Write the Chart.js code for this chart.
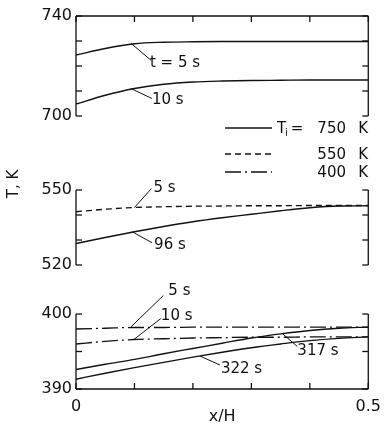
<!DOCTYPE html>
<html>
<head>
<meta charset="utf-8">
<script src="https://cdn.jsdelivr.net/npm/chart.js@4.4.1/dist/chart.umd.min.js"></script>
<style>
html,body{margin:0;padding:0;background:#fff}
#wrap{position:relative;width:389px;height:432px}
#wrap canvas{position:absolute;left:0;top:0}
#frames{pointer-events:none}
</style>
</head>
<body>
<div id="wrap">
<canvas id="myChart" width="389" height="432"></canvas>
<canvas id="frames" width="389" height="432"></canvas>
</div>
<script>
const xs = [0, 0.05, 0.1, 0.15, 0.2, 0.25, 0.3, 0.35, 0.4, 0.45, 0.5];

// Ti = 750 K
const t750_5s  = [724.4, 727.0, 728.9, 729.5, 729.7, 729.8, 729.8, 729.8, 729.8, 729.8, 729.8];
const t750_10s = [704.8, 708.3, 711.0, 712.7, 713.6, 714.0, 714.2, 714.3, 714.4, 714.4, 714.4];
// Ti = 550 K
const t550_5s  = [541.3, 542.3, 543.0, 543.3, 543.5, 543.6, 543.7, 543.7, 543.8, 543.8, 543.8];
const t550_96s = [528.6, 531.0, 533.3, 535.4, 537.3, 538.9, 540.3, 541.7, 542.9, 543.6, 543.7];
// Ti = 400 K
const t400_5s   = [398.0, 398.1, 398.2, 398.2, 398.25, 398.25, 398.25, 398.25, 398.25, 398.25, 398.25];
const t400_10s  = [396.0, 396.35, 396.6, 396.7, 396.8, 396.85, 396.9, 396.9, 396.95, 396.95, 396.95];
const t400_317s = [392.6, 393.3, 393.95, 394.7, 395.4, 396.1, 396.8, 397.35, 397.8, 398.1, 398.25];
const t400_322s = [391.3, 392.1, 392.85, 393.55, 394.25, 394.9, 395.5, 396.0, 396.45, 396.75, 396.95];

// axis ranges and labelled ticks
const xTickLabels = [0, 0.5];
const topRange = [700, 740], midRange = [520, 550], botRange = [390, 400];
const topLabels = [700, 740], midLabels = [520, 550], botLabels = [390, 400];

// legend: initial temperatures
const legendTemps = ['750', '550', '400'];

const ink = '#111';
const DASH = [6, 4];
const DASHDOT = [16, 4, 2, 4];
const TL = 6; // inward tick length

Chart.defaults.font.family = '"DejaVu Sans"';
Chart.defaults.font.size = 16;
Chart.defaults.color = ink;

function pts(arr) {
    return xs.map((x, i) => ({x: x, y: arr[i]}));
}
function line(arr, axis, dash) {
    return {
        data: pts(arr), xAxisID: 'x', yAxisID: axis,
        borderColor: ink, borderWidth: 1.3, borderDash: dash || [],
        pointRadius: 0, tension: 0.4, cubicInterpolationMode: 'monotone', fill: false
    };
}

const noGrid = {display: false, drawTicks: false};
const noBorder = {display: false};

function leftAxis(range, labels, step, stackWeight, weight) {
    return {
        type: 'linear', position: 'left', stack: 'L', stackWeight: stackWeight, weight: weight,
        min: range[0], max: range[1],
        grid: noGrid, border: noBorder,
        ticks: {stepSize: step, autoSkip: false, padding: 4,
            callback: v => labels.includes(v) ? String(v) : ''},
        afterFit: s => { s.width = 76; }
    };
}
// empty axis that only keeps the space between two panels
function gapAxis(stackWeight, weight) {
    return {
        type: 'linear', position: 'left', stack: 'L', stackWeight: stackWeight, weight: weight,
        min: 0, max: 1,
        grid: noGrid, border: noBorder, ticks: {display: false},
        afterFit: s => { s.width = 76; }
    };
}

// curve labels with leader lines: anchor on the curve, leader offset, text offset
const callouts = [
    {axis: 'yT', x: 0.094, y: 729.1, dx: 20, dy: 17, tx: -1, ty: 3, text: 't = 5 s'},
    {axis: 'yT', x: 0.094, y: 711.0, dx: 21, dy: 10, tx: 0, ty: 2, text: '10 s'},
    {axis: 'yM', x: 0.1, y: 543.0, dx: 17, dy: -19, tx: 2, ty: 0, text: '5 s'},
    {axis: 'yM', x: 0.096, y: 533.3, dx: 20, dy: 11, tx: 2, ty: 2, text: '96 s'},
    {axis: 'yB', x: 0.093, y: 398.2, dx: 33, dy: -32, tx: 5, ty: -4, text: '5 s'},
    {axis: 'yB', x: 0.099, y: 396.6, dx: 27, dy: -21, tx: 0, ty: -2, text: '10 s'},
    {axis: 'yB', x: 0.353, y: 397.4, dx: 15, dy: 13, tx: 0, ty: 5, text: '317 s'},
    {axis: 'yB', x: 0.212, y: 394.4, dx: 20, dy: 9, tx: 1, ty: 4, text: '322 s'}
];

// panel frames with inward ticks, drawn on an overlay canvas from the chart's scales
function segment(g, x1, y1, x2, y2) {
    g.beginPath();
    g.moveTo(x1, y1);
    g.lineTo(x2, y2);
    g.stroke();
}
function drawFrames(chart) {
    const g = document.getElementById('frames').getContext('2d');
    const a = chart.chartArea, sc = chart.scales, sx = sc.x;
    g.clearRect(0, 0, 389, 432);
    g.strokeStyle = ink;
    g.lineWidth = 1.3;
    g.setLineDash([]);
    ['yT', 'yM', 'yB'].forEach(id => {
        const s = sc[id];
        segment(g, a.left, s.top, a.left, s.bottom);
        segment(g, a.right, s.top, a.right, s.bottom);
        s.ticks.forEach(t => {
            const y = s.getPixelForValue(t.value);
            segment(g, a.left, y, a.left + TL, y);
            segment(g, a.right, y, a.right - TL, y);
        });
    });
    const top = sc.yT.top, bot = sc.yB.bottom;
    segment(g, a.left, top, a.right, top);
    segment(g, a.left, bot, a.right, bot);
    sx.ticks.forEach(t => {
        const x = sx.getPixelForValue(t.value);
        segment(g, x, top, x, top + TL);
        segment(g, x, bot, x, bot - TL);
    });
}

const notes = {
    id: 'notes',
    afterDraw(chart) {
        const g = chart.ctx, sc = chart.scales;
        g.save();
        g.strokeStyle = ink;
        g.fillStyle = ink;
        g.lineWidth = 1;
        g.font = '15px "DejaVu Sans"';
        g.textBaseline = 'middle';
        g.textAlign = 'left';
        callouts.forEach(c => {
            const px = sc.x.getPixelForValue(c.x);
            const py = sc[c.axis].getPixelForValue(c.y);
            g.beginPath();
            g.moveTo(px, py);
            g.lineTo(px + c.dx, py + c.dy);
            g.stroke();
            g.fillText(c.text, px + c.dx + c.tx, py + c.dy + c.ty);
        });

        // legend
        const rows = [128, 154, 172];
        const dashes = [[], DASH, DASHDOT];
        g.lineWidth = 1.3;
        rows.forEach((y, i) => {
            g.setLineDash(dashes[i]);
            g.beginPath();
            g.moveTo(225, y);
            g.lineTo(272, y);
            g.stroke();
        });
        g.setLineDash([]);
        g.textAlign = 'right';
        rows.forEach((y, i) => {
            g.fillText(legendTemps[i], 346, y + 1);
            g.fillText('K', 368, y + 1);
        });
        g.textAlign = 'center';
        g.fillText('=', 297, 129);
        g.textAlign = 'left';
        g.fillText('T', 277, 129);
        g.font = '10px "DejaVu Sans"';
        g.fillText('i', 285, 133);

        // y title
        g.font = '15px "DejaVu Sans"';
        g.translate(14, 184);
        g.rotate(-Math.PI / 2);
        g.textAlign = 'center';
        g.fillText('T, K', 0, 0);
        g.restore();

        drawFrames(chart);
    }
};

const ctx = document.getElementById('myChart');

let myChart = new Chart(ctx, {
    type: 'line',
    data: {
        datasets: [
            line(t750_5s, 'yT'),
            line(t750_10s, 'yT'),
            line(t550_5s, 'yM', DASH),
            line(t550_96s, 'yM'),
            line(t400_5s, 'yB', DASHDOT),
            line(t400_10s, 'yB', DASHDOT),
            line(t400_317s, 'yB'),
            line(t400_322s, 'yB')
        ]
    },
    options: {
        responsive: false,
        animation: false,
        devicePixelRatio: 1,
        layout: {padding: {top: 16, right: 17, left: 0, bottom: 0}},
        plugins: {legend: {display: false}, tooltip: {enabled: false}},
        scales: {
            x: {
                type: 'linear', position: 'bottom', min: 0, max: 0.5,
                grid: noGrid, border: noBorder,
                ticks: {stepSize: 0.1, autoSkip: false, padding: 8, maxRotation: 0,
                    callback: v => xTickLabels.some(t => Math.abs(t - v) < 1e-9) ? String(v) : ''},
                title: {display: true, text: 'x/H', padding: {top: 0, bottom: 6}},
                afterFit: s => { s.height = 43; }
            },
            yB: leftAxis(botRange, botLabels, 5, 75, 1),
            g1: gapAxis(49, 2),
            yM: leftAxis(midRange, midLabels, 10, 75, 3),
            g2: gapAxis(74, 4),
            yT: leftAxis(topRange, topLabels, 10, 100, 5)
        }
    },
    plugins: [notes]
});
</script>
</body>
</html>
